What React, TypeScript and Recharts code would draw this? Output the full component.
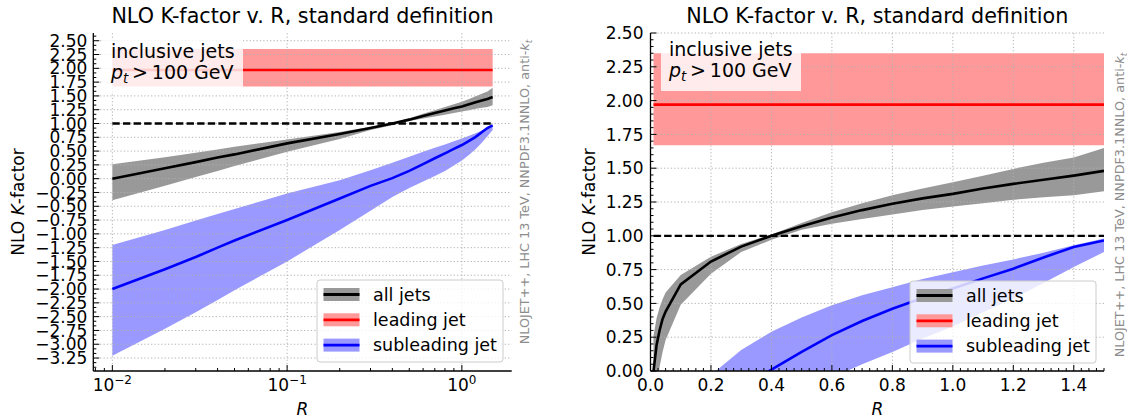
import React from 'react';
import { ComposedChart, Area, Line, XAxis, YAxis, ReferenceLine } from 'recharts';

const FONT = "'DejaVu Sans', sans-serif";

// ---------------- data ----------------
const R_VALUES = [0.01, 0.02, 0.03, 0.04, 0.05, 0.1, 0.2, 0.3, 0.4, 0.5, 0.6, 0.7, 0.8, 0.9, 1.0, 1.1, 1.2, 1.3, 1.4, 1.5];

const ALL_JETS = [0.0, 0.19, 0.3, 0.385, 0.44, 0.64, 0.81, 0.92, 1.0, 1.07, 1.135, 1.19, 1.237, 1.277, 1.31, 1.35, 1.384, 1.415, 1.445, 1.48];
const ALL_JETS_LO = [-0.39, -0.13, 0.03, 0.14, 0.23, 0.49, 0.72, 0.88, 0.97, 1.045, 1.09, 1.125, 1.158, 1.19, 1.217, 1.24, 1.266, 1.285, 1.3, 1.33];
const ALL_JETS_HI = [0.26, 0.39, 0.47, 0.53, 0.58, 0.71, 0.845, 0.94, 1.01, 1.094, 1.175, 1.24, 1.3, 1.35, 1.396, 1.445, 1.495, 1.54, 1.58, 1.65];

const LEADING_JET = [1.97, 1.97, 1.97, 1.97, 1.97, 1.97, 1.97, 1.97, 1.97, 1.97, 1.97, 1.97, 1.97, 1.97, 1.97, 1.97, 1.97, 1.97, 1.97, 1.97];
const LEADING_JET_LO = [1.67, 1.67, 1.67, 1.67, 1.67, 1.67, 1.67, 1.67, 1.67, 1.67, 1.67, 1.67, 1.67, 1.67, 1.67, 1.67, 1.67, 1.67, 1.67, 1.67];
const LEADING_JET_HI = [2.35, 2.35, 2.35, 2.35, 2.35, 2.35, 2.35, 2.35, 2.35, 2.35, 2.35, 2.35, 2.35, 2.35, 2.35, 2.35, 2.35, 2.35, 2.35, 2.35];

const SUBLEADING_JET = [-2.0, -1.64, -1.42, -1.25, -1.12, -0.75, -0.36, -0.13, 0.01, 0.142, 0.265, 0.37, 0.46, 0.54, 0.61, 0.685, 0.757, 0.84, 0.917, 0.965];
const SUBLEADING_JET_LO = [-3.21, -2.72, -2.42, -2.2, -2.02, -1.5, -0.93, -0.58, -0.33, -0.17, -0.05, 0.05, 0.14, 0.24, 0.33, 0.435, 0.536, 0.65, 0.77, 0.88];
const SUBLEADING_JET_HI = [-1.2, -0.93, -0.76, -0.64, -0.55, -0.27, -0.03, 0.155, 0.29, 0.396, 0.487, 0.56, 0.62, 0.68, 0.73, 0.78, 0.825, 0.875, 0.93, 0.98];

const UNITY = 1.0;

// ---------------- ticks ----------------
const LEFT_X_MAJOR = [0.01, 0.1, 1];
const LEFT_X_EXP = ['\u22122', '\u22121', '0'];
const LEFT_X_MINOR = [0.008, 0.009, 0.02, 0.03, 0.04, 0.05, 0.06, 0.07, 0.08, 0.09, 0.2, 0.3, 0.4, 0.5, 0.6, 0.7, 0.8, 0.9];
const LEFT_Y_MAJOR = [-3.25, -3.0, -2.75, -2.5, -2.25, -2.0, -1.75, -1.5, -1.25, -1.0, -0.75, -0.5, -0.25, 0.0, 0.25, 0.5, 0.75, 1.0, 1.25, 1.5, 1.75, 2.0, 2.25, 2.5];
const RIGHT_X_MAJOR = [0.0, 0.2, 0.4, 0.6, 0.8, 1.0, 1.2, 1.4];
const RIGHT_Y_MAJOR = [0.0, 0.25, 0.5, 0.75, 1.0, 1.25, 1.5, 1.75, 2.0, 2.25, 2.5];

const LEFT_X_DOMAIN = [0.00778, 1.928];
const LEFT_Y_DOMAIN = [-3.485, 2.64];
const RIGHT_X_DOMAIN = [0, 1.5];
const RIGHT_Y_DOMAIN = [0, 2.5];

const minorSteps = (lo: number, hi: number, step: number, every: number) => {
  const out: number[] = [];
  for (let k = Math.ceil(lo / step - 1e-9); k <= Math.floor(hi / step + 1e-9); k++) {
    if (k % every !== 0) out.push(k * step);
  }
  return out;
};

const LEFT_X_TICKS = [...LEFT_X_MAJOR, ...LEFT_X_MINOR].sort((a, b) => a - b);
const LEFT_Y_TICKS = [...LEFT_Y_MAJOR, ...minorSteps(LEFT_Y_DOMAIN[0], LEFT_Y_DOMAIN[1], 0.25 / 3, 3)].sort((a, b) => a - b);
const RIGHT_X_TICKS = [...RIGHT_X_MAJOR, ...minorSteps(0, 1.5, 0.025, 8)].sort((a, b) => a - b);
const RIGHT_Y_TICKS = [...RIGHT_Y_MAJOR, ...minorSteps(0, 2.5, 0.05, 5)].sort((a, b) => a - b);

const ROWS = R_VALUES.map((r, i) => ({
  R: r,
  all: ALL_JETS[i],
  allBand: [ALL_JETS_LO[i], ALL_JETS_HI[i]],
  lead: LEADING_JET[i],
  leadBand: [LEADING_JET_LO[i], LEADING_JET_HI[i]],
  sub: SUBLEADING_JET[i],
  subBand: [SUBLEADING_JET_LO[i], SUBLEADING_JET_HI[i]],
}));

const LEGEND_ITEMS = [
  { label: 'all jets', band: '#999999', line: '#000000' },
  { label: 'leading jet', band: '#ff9999', line: '#ff0000' },
  { label: 'subleading jet', band: '#9999ff', line: '#0000ff' },
];

const TITLE = 'NLO K-factor v. R, standard definition';

// ---------------- styles ----------------
const SPINE = { stroke: '#000', strokeWidth: 1.3 };
const GRID = { stroke: '#b0b0b0', strokeWidth: 1, strokeDasharray: '1.2 2.2' };
const MAJOR_LEN = 6;
const MINOR_LEN = 3;
const TICK_FONT = 17;
const LINE_W = 2.6;

const isIn = (arr: number[], v: number) => arr.some((m) => Math.abs(m - v) < 1e-6);
const minus = (s: string) => s.replace('-', '\u2212');

const LogXTick = (props: any) => {
  const { x, y, payload } = props;
  const v = payload.value;
  const idx = LEFT_X_MAJOR.findIndex((m) => Math.abs(m - v) < 1e-9);
  const major = idx >= 0;
  return (
    <g>
      <line x1={x} x2={x} y1={y} y2={y - (major ? MAJOR_LEN : MINOR_LEN)} stroke="#000" strokeWidth={1} />
      {major && (
        <text x={x} y={y + 19.5} textAnchor="middle" fontSize={TICK_FONT} fontFamily={FONT} fill="#000">
          10
          <tspan dy={-6.5} fontSize={12}>{LEFT_X_EXP[idx]}</tspan>
        </text>
      )}
    </g>
  );
};

const LinXTick = (props: any) => {
  const { x, y, payload } = props;
  const v = payload.value;
  const major = isIn(RIGHT_X_MAJOR, v);
  return (
    <g>
      <line x1={x} x2={x} y1={y} y2={y - (major ? MAJOR_LEN : MINOR_LEN)} stroke="#000" strokeWidth={1} />
      {major && (
        <text x={x} y={y + 19.5} textAnchor="middle" fontSize={TICK_FONT} fontFamily={FONT} fill="#000">
          {v.toFixed(1)}
        </text>
      )}
    </g>
  );
};

const makeYTick = (majors: number[], gap: number) => (props: any) => {
  const { x, y, payload } = props;
  const v = payload.value;
  const major = isIn(majors, v);
  return (
    <g>
      <line x1={x} x2={x + (major ? MAJOR_LEN : MINOR_LEN)} y1={y} y2={y} stroke="#000" strokeWidth={1} />
      {major && (
        <text x={x - gap} y={y} dy="0.36em" textAnchor="end" fontSize={TICK_FONT} fontFamily={FONT} fill="#000">
          {minus(v.toFixed(2))}
        </text>
      )}
    </g>
  );
};

const LeftYTick = makeYTick(LEFT_Y_MAJOR, 6);
const RightYTick = makeYTick(RIGHT_Y_MAJOR, 7);

function renderSeries() {
  return [
    <Area key="ab" dataKey="allBand" type="linear" stroke="none" fill="#999999" fillOpacity={1} isAnimationActive={false} dot={false} activeDot={false} />,
    <Area key="lb" dataKey="leadBand" type="linear" stroke="none" fill="#ff9999" fillOpacity={1} isAnimationActive={false} dot={false} activeDot={false} />,
    <Area key="sb" dataKey="subBand" type="linear" stroke="none" fill="#9999ff" fillOpacity={1} isAnimationActive={false} dot={false} activeDot={false} />,
  ];
}

function renderLines() {
  return [
    <Line key="al" dataKey="all" type="linear" stroke="#000000" strokeWidth={LINE_W} dot={false} activeDot={false} isAnimationActive={false} />,
    <Line key="ll" dataKey="lead" type="linear" stroke="#ff0000" strokeWidth={LINE_W} dot={false} activeDot={false} isAnimationActive={false} />,
    <Line key="sl" dataKey="sub" type="linear" stroke="#0000ff" strokeWidth={LINE_W} dot={false} activeDot={false} isAnimationActive={false} />,
  ];
}

const DASHED = { stroke: '#000', strokeWidth: 2.3, strokeDasharray: '7.4 3.2' };

function LeftChart() {
  return (
    <ComposedChart width={560} height={419} data={ROWS} margin={{ top: 33, right: 48.3, bottom: 0, left: 0 }}>
      <XAxis dataKey="R" type="number" scale="log" domain={LEFT_X_DOMAIN} allowDataOverflow ticks={LEFT_X_TICKS} interval={0}
        tick={LogXTick} tickLine={false} tickSize={0} tickMargin={0} height={48} axisLine={SPINE} />
      <XAxis xAxisId="top" orientation="top" type="number" scale="log" domain={LEFT_X_DOMAIN} allowDataOverflow height={0}
        tick={false} tickLine={false} axisLine={SPINE} />
      <YAxis type="number" domain={LEFT_Y_DOMAIN} allowDataOverflow ticks={LEFT_Y_TICKS} interval={0}
        tick={LeftYTick} tickLine={false} tickSize={0} tickMargin={0} width={93.3} axisLine={SPINE} />
      <YAxis yAxisId="right" orientation="right" type="number" domain={LEFT_Y_DOMAIN} allowDataOverflow width={0}
        tick={false} tickLine={false} axisLine={SPINE} />
      {renderSeries()}
      {LEFT_Y_MAJOR.map((v) => (
        <ReferenceLine key={'gy' + v} y={v} {...GRID} />
      ))}
      {LEFT_X_MAJOR.map((v) => (
        <ReferenceLine key={'gx' + v} x={v} {...GRID} />
      ))}
      <ReferenceLine segment={[{ x: R_VALUES[0], y: UNITY }, { x: R_VALUES[R_VALUES.length - 1], y: UNITY }]} {...DASHED} />
      {renderLines()}
    </ComposedChart>
  );
}

function RightChart() {
  return (
    <ComposedChart width={567} height={419} data={ROWS} margin={{ top: 33, right: 23, bottom: 0, left: 0 }}>
      <XAxis dataKey="R" type="number" domain={RIGHT_X_DOMAIN} allowDataOverflow ticks={RIGHT_X_TICKS} interval={0}
        tick={LinXTick} tickLine={false} tickSize={0} tickMargin={0} height={48} axisLine={SPINE} />
      <XAxis xAxisId="top" orientation="top" type="number" domain={RIGHT_X_DOMAIN} allowDataOverflow height={0}
        tick={false} tickLine={false} axisLine={SPINE} />
      <YAxis type="number" domain={RIGHT_Y_DOMAIN} allowDataOverflow ticks={RIGHT_Y_TICKS} interval={0}
        tick={RightYTick} tickLine={false} tickSize={0} tickMargin={0} width={90.5} axisLine={SPINE} />
      <YAxis yAxisId="right" orientation="right" type="number" domain={RIGHT_Y_DOMAIN} allowDataOverflow width={0}
        tick={false} tickLine={false} axisLine={SPINE} />
      {renderSeries()}
      {RIGHT_Y_MAJOR.map((v) => (
        <ReferenceLine key={'gy' + v} y={v} {...GRID} />
      ))}
      {RIGHT_X_MAJOR.map((v) => (
        <ReferenceLine key={'gx' + v} x={v} {...GRID} />
      ))}
      <ReferenceLine segment={[{ x: R_VALUES[0], y: UNITY }, { x: R_VALUES[R_VALUES.length - 1], y: UNITY }]} {...DASHED} />
      {renderLines()}
    </ComposedChart>
  );
}

function LegendBox({ x, y }: { x: number; y: number }) {
  return (
    <g>
      <rect x={x} y={y} width={186} height={82} rx={3} ry={3} fill="#fff" fillOpacity={0.8} stroke="#cccccc" strokeWidth={1} />
      {LEGEND_ITEMS.map((e, i) => {
        const cy = y + 14.5 + i * 25.3;
        return (
          <g key={e.label}>
            <rect x={x + 6.5} y={cy - 6.5} width={36} height={13} fill={e.band} />
            <line x1={x + 6.5} x2={x + 42.5} y1={cy} y2={cy} stroke={e.line} strokeWidth={2.8} />
            <text x={x + 56} y={cy} dy="0.35em" fontSize={17.5} fontFamily={FONT} fill="#000">
              {e.label}
            </text>
          </g>
        );
      })}
    </g>
  );
}

function InfoBox({ x, y, textY }: { x: number; y: number; textY: number }) {
  return (
    <g>
      <rect x={x} y={y} width={140} height={54} fill="#fff" fillOpacity={0.8} />
      <text x={x + 8} y={textY} fontSize={19} fontFamily={FONT} fill="#000">inclusive jets</text>
      <text x={x + 8} y={textY + 21} fontSize={19} fontFamily={FONT} fill="#000">
        <tspan fontStyle="italic">p</tspan>
        <tspan fontStyle="italic" fontSize={13.3} dy={4}>t</tspan>
        <tspan dy={-4}>{'\u2009>\u2009100 GeV'}</tspan>
      </text>
    </g>
  );
}

function SideText({ x, y }: { x: number; y: number }) {
  return (
    <text transform={`translate(${x},${y}) rotate(-90)`} textAnchor="middle" fontSize={12.8} fontFamily={FONT} fill="#8c8c8c">
      NLOJET++, LHC 13 TeV, NNPDF3.1NNLO, anti-
      <tspan fontStyle="italic">k</tspan>
      <tspan fontStyle="italic" fontSize={9} dy={2.5}>t</tspan>
    </text>
  );
}

function YLabel({ x, y }: { x: number; y: number }) {
  return (
    <text transform={`translate(${x},${y}) rotate(-90)`} textAnchor="middle" fontSize={17} fontFamily={FONT} fill="#000">
      NLO <tspan fontStyle="italic">K</tspan>-factor
    </text>
  );
}

function Overlay() {
  return (
    <svg width={1127} height={419} style={{ position: 'absolute', left: 0, top: 0, pointerEvents: 'none' }}>
      <text x={302.5} y={22.7} textAnchor="middle" fontSize={20.7} fontFamily={FONT} fill="#000">{TITLE}</text>
      <text x={877.3} y={22.7} textAnchor="middle" fontSize={20.7} fontFamily={FONT} fill="#000">{TITLE}</text>
      <YLabel x={23.5} y={202} />
      <YLabel x={595} y={202} />
      <text x={302.5} y={414.5} textAnchor="middle" fontSize={17} fontStyle="italic" fontFamily={FONT} fill="#000">R</text>
      <text x={877.3} y={414.5} textAnchor="middle" fontSize={17} fontStyle="italic" fontFamily={FONT} fill="#000">R</text>
      <InfoBox x={103} y={38} textY={57.7} />
      <InfoBox x={661} y={37} textY={55.7} />
      <LegendBox x={317} y={280} />
      <LegendBox x={910} y={281} />
      <SideText x={529} y={192} />
      <SideText x={1124} y={205} />
    </svg>
  );
}

export default function App() {
  return (
    <div style={{ position: 'absolute', left: 0, top: 0, width: 1127, height: 419, background: '#fff', fontFamily: FONT }}>
      <div style={{ position: 'absolute', left: 0, top: 0 }}>
        <LeftChart />
      </div>
      <div style={{ position: 'absolute', left: 560, top: 0 }}>
        <RightChart />
      </div>
      <Overlay />
    </div>
  );
}
